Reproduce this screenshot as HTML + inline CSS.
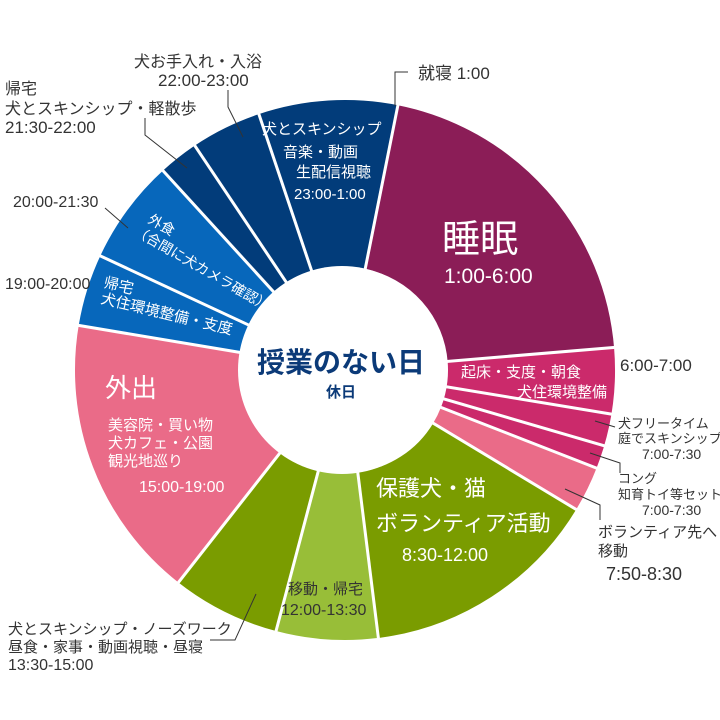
<!DOCTYPE html>
<html><head><meta charset="utf-8"><style>
html,body{margin:0;padding:0;background:#fff;}
svg{display:block;}
text{font-family:"Liberation Sans","Noto Sans CJK JP",sans-serif;}
.d{fill:#333;font-size:16px;}
.w{fill:#fff;}
</style></head><body>
<svg width="720" height="720" viewBox="0 0 720 720">
<g fill="none" stroke-width="167">
<circle cx="345" cy="370" r="186.5" stroke="#023c7a" stroke-dasharray="98.3 2000" transform="rotate(251.4 345 370)"/>
<circle cx="345" cy="370" r="186.5" stroke="#8b1d57" stroke-dasharray="241.5 2000" transform="rotate(-78.7 345 370)"/>
<circle cx="345" cy="370" r="186.5" stroke="#cb2a6b" stroke-dasharray="86 2000" transform="rotate(-4.8 345 370)"/>
<circle cx="345" cy="370" r="186.5" stroke="#ea6b88" stroke-dasharray="32.9 2000" transform="rotate(21.3 345 370)"/>
<circle cx="345" cy="370" r="186.5" stroke="#7a9c00" stroke-dasharray="169.6 2000" transform="rotate(31.1 345 370)"/>
<circle cx="345" cy="370" r="186.5" stroke="#98be38" stroke-dasharray="72.3 2000" transform="rotate(82.9 345 370)"/>
<circle cx="345" cy="370" r="186.5" stroke="#7a9c00" stroke-dasharray="76.8 2000" transform="rotate(104.8 345 370)"/>
<circle cx="345" cy="370" r="186.5" stroke="#ea6b88" stroke-dasharray="200.9 2000" transform="rotate(128.1 345 370)"/>
<circle cx="345" cy="370" r="186.5" stroke="#0767bb" stroke-dasharray="125 2000" transform="rotate(189.5 345 370)"/>
<circle cx="345" cy="370" r="186.5" stroke="#023c7a" stroke-dasharray="78.5 2000" transform="rotate(227.6 345 370)"/>
</g>
<g stroke="#fff" stroke-width="3">
<line x1="345" y1="370" x2="345" y2="90" transform="rotate(11.3 345 370)"/>
<line x1="345" y1="370" x2="345" y2="90" transform="rotate(85.2 345 370)"/>
<line x1="345" y1="370" x2="345" y2="90" transform="rotate(99.4 345 370)"/>
<line x1="345" y1="370" x2="345" y2="90" transform="rotate(106.3 345 370)"/>
<line x1="345" y1="370" x2="345" y2="90" transform="rotate(111.3 345 370)"/>
<line x1="345" y1="370" x2="345" y2="90" transform="rotate(121.1 345 370)"/>
<line x1="345" y1="370" x2="345" y2="90" transform="rotate(172.9 345 370)"/>
<line x1="345" y1="370" x2="345" y2="90" transform="rotate(194.8 345 370)"/>
<line x1="345" y1="370" x2="345" y2="90" transform="rotate(218.1 345 370)"/>
<line x1="345" y1="370" x2="345" y2="90" transform="rotate(279.5 345 370)"/>
<line x1="345" y1="370" x2="345" y2="90" transform="rotate(295 345 370)"/>
<line x1="345" y1="370" x2="345" y2="90" transform="rotate(317.6 345 370)"/>
<line x1="345" y1="370" x2="345" y2="90" transform="rotate(326.2 345 370)"/>
<line x1="345" y1="370" x2="345" y2="90" transform="rotate(341.4 345 370)"/>
</g>
<circle cx="342" cy="370" r="104" fill="#fff"/>

<g fill="none" stroke="#333" stroke-width="1">
<polyline points="395,106 395,72 408,72"/>
<polyline points="228,90 228,107 243,137"/>
<polyline points="145,118 145,135 187,168"/>
<polyline points="105,208 128,228"/>
<polyline points="595,421 615,427"/>
<polyline points="590,453 620,463 620,473"/>
<polyline points="565,489 600,505 600,520"/>
<polyline points="256,594 235,640 210,640"/>
</g>

<g class="d">
<text x="418" y="79" font-size="17">就寝 1:00</text>
<text x="134" y="67">犬お手入れ・入浴</text>
<text x="158" y="86" font-size="17">22:00-23:00</text>
<text x="5" y="94">帰宅</text>
<text x="5" y="114">犬とスキンシップ・軽散歩</text>
<text x="5" y="133" font-size="17">21:30-22:00</text>
<text x="13" y="207">20:00-21:30</text>
<text x="5" y="289">19:00-20:00</text>
<text x="620" y="371" font-size="17">6:00-7:00</text>
<text x="618" y="428" font-size="13">犬フリータイム</text>
<text x="618" y="443" font-size="13">庭でスキンシップ</text>
<text x="642" y="459" font-size="14">7:00-7:30</text>
<text x="618" y="483" font-size="13">コング</text>
<text x="618" y="499" font-size="13">知育トイ等セット</text>
<text x="642" y="515" font-size="14">7:00-7:30</text>
<text x="598" y="537" font-size="15">ボランティア先へ</text>
<text x="598" y="556" font-size="15">移動</text>
<text x="606" y="580" font-size="18">7:50-8:30</text>
<text x="8" y="634" font-size="15">犬とスキンシップ・ノーズワーク</text>
<text x="8" y="652" font-size="15">昼食・家事・動画視聴・昼寝</text>
<text x="8" y="670" font-size="16">13:30-15:00</text>
</g>

<g class="w">
<text x="262" y="134" font-size="15">犬とスキンシップ</text>
<text x="283" y="157" font-size="15">音楽・動画</text>
<text x="296" y="177" font-size="15">生配信視聴</text>
<text x="294" y="199" font-size="15">23:00-1:00</text>
<text x="442" y="252" font-size="38">睡眠</text>
<text x="444" y="283" font-size="21">1:00-6:00</text>
<text x="461" y="377" font-size="15">起床・支度・朝食</text>
<text x="517" y="397" font-size="15">犬住環境整備</text>
<text x="376" y="496" font-size="22">保護犬・猫</text>
<text x="376" y="531" font-size="22">ボランティア活動</text>
<text x="402" y="561" font-size="18">8:30-12:00</text>
<text x="105" y="397" font-size="26">外出</text>
<text x="108" y="430" font-size="15">美容院・買い物</text>
<text x="108" y="448" font-size="15">犬カフェ・公園</text>
<text x="108" y="466" font-size="15">観光地巡り</text>
<text x="139" y="492" font-size="16">15:00-19:00</text>
<text font-size="14" transform="translate(147,222) rotate(30)">外食</text>
<text font-size="14" transform="translate(133,234) rotate(30)">（合間に犬カメラ確認）</text>
<text font-size="15" transform="translate(103,287) rotate(13.5)">帰宅</text>
<text font-size="15" transform="translate(100,303) rotate(13.5)">犬住環境整備・支度</text>
</g>
<text x="288" y="594" font-size="15" fill="#333">移動・帰宅</text>
<text x="281" y="615" font-size="16" fill="#333">12:00-13:30</text>

<text x="341" y="372" font-size="28" font-weight="bold" fill="#0b3a78" text-anchor="middle">授業のない日</text>
<text x="341" y="397" font-size="15" font-weight="bold" fill="#0b3a78" text-anchor="middle">休日</text>
</svg>
</body></html>
